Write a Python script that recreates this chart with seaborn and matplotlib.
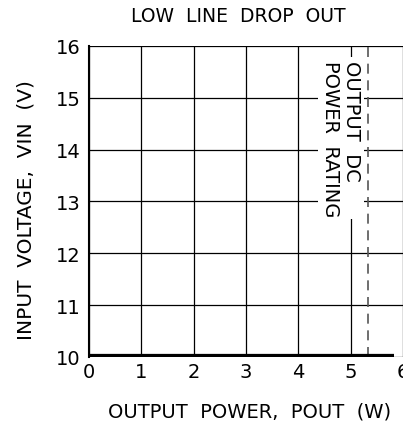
import matplotlib
matplotlib.use("Agg")
import matplotlib.pyplot as plt
import seaborn as sns
import pandas as pd

# drop-out curve (flat at the low line limit)
power = [0.0, 5.82]
vin = [10.0, 10.0]

rating_power = 5.33
x_ticks = [0, 1, 2, 3, 4, 5, 6]
y_ticks = [10, 11, 12, 13, 14, 15, 16]

sns.set_theme(style="white")
plt.rcParams["font.family"] = ["DejaVu Sans"]

W, H = 403, 427
fig = plt.figure(figsize=(W / 100, H / 100), dpi=100)
ax = fig.add_axes([0.221, 0.162, 0.779, 0.728])

df = pd.DataFrame({"power": power, "vin": vin})
sns.lineplot(data=df, x="power", y="vin", color="black", linewidth=4.5,
             ax=ax, solid_capstyle="butt", zorder=5)

ax.axvline(rating_power, color="#555555", linewidth=1.2, linestyle=(0, (6, 4)), zorder=3)

ax.set_xlim(0, 6)
ax.set_ylim(10, 16)
ax.set_xticks(x_ticks)
ax.set_yticks(y_ticks)
ax.grid(True, color="black", linewidth=0.9)
ax.set_axisbelow(True)

for s in ["top", "right", "bottom"]:
    ax.spines[s].set_visible(False)
ax.spines["left"].set_color("black")
ax.spines["left"].set_linewidth(1.5)
ax.tick_params(axis="both", length=0, labelsize=14, colors="black", pad=6)
ax.tick_params(axis="x", pad=4)

ax.text(4.82, 14.22, "OUTPUT  DC\nPOWER  RATING", rotation=-90, ha="center", va="center",
        multialignment="left", fontsize=14, color="black", linespacing=1.15,
        bbox=dict(facecolor="white", edgecolor="none", pad=2), zorder=4)

ax.set_xlabel("")
ax.set_ylabel("")
fig.text(250 / W, 1 - 412 / H, "OUTPUT  POWER,  POUT  (W)", ha="center", va="center",
         fontsize=14, color="black")
fig.text(26 / W, 1 - 210 / H, "INPUT  VOLTAGE,  VIN  (V)", ha="center", va="center",
         rotation=90, fontsize=14.5, color="black")
fig.text(238 / W, 1 - 17 / H, "LOW  LINE  DROP  OUT", ha="center", va="center",
         fontsize=13.5, color="black")

fig.savefig("out.png", dpi=100)
